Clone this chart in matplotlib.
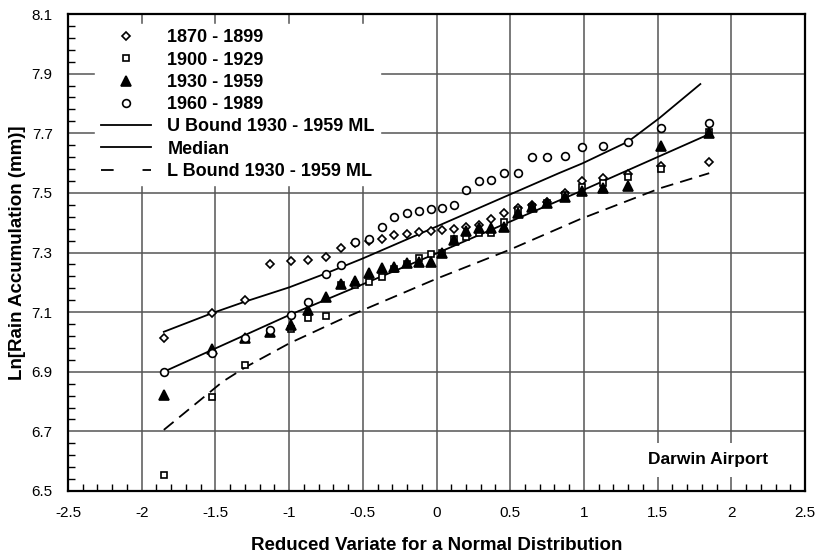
import matplotlib
matplotlib.use("Agg")
import numpy as np
import matplotlib.pyplot as plt
from matplotlib.lines import Line2D
from matplotlib.ticker import MultipleLocator, FixedLocator, FormatStrFormatter

plt.rcParams['font.family'] = ['Liberation Sans', 'DejaVu Sans']

# plotting positions (reduced variate), 30 values per period
xq = [-1.85, -1.52, -1.30, -1.13, -0.99, -0.87, -0.75, -0.65, -0.55, -0.46,
      -0.37, -0.29, -0.20, -0.12, -0.04, 0.04, 0.12, 0.20, 0.29, 0.37,
      0.46, 0.55, 0.65, 0.75, 0.87, 0.99, 1.13, 1.30, 1.52, 1.85]

p1870 = [7.013, 7.097, 7.140, 7.261, 7.271, 7.275, 7.285, 7.316, 7.331, 7.340,
         7.346, 7.359, 7.363, 7.369, 7.371, 7.374, 7.378, 7.385, 7.392, 7.411,
         7.433, 7.450, 7.460, 7.470, 7.500, 7.541, 7.549, 7.563, 7.590, 7.603]
p1900 = [6.553, 6.815, 6.922, 7.033, 7.043, 7.080, 7.087, 7.190, 7.191, 7.201,
         7.219, 7.245, 7.260, 7.283, 7.294, 7.297, 7.344, 7.353, 7.364, 7.364,
         7.403, 7.443, 7.452, 7.467, 7.493, 7.521, 7.534, 7.554, 7.579, 7.705]
p1930 = [6.822, 6.976, 7.013, 7.035, 7.057, 7.107, 7.150, 7.194, 7.205, 7.232,
         7.247, 7.252, 7.264, 7.267, 7.267, 7.297, 7.342, 7.372, 7.381, 7.383,
         7.386, 7.431, 7.454, 7.467, 7.487, 7.507, 7.515, 7.524, 7.657, 7.700]
p1960 = [6.900, 6.963, 7.013, 7.040, 7.090, 7.134, 7.228, 7.258, 7.336, 7.344,
         7.384, 7.418, 7.433, 7.440, 7.447, 7.449, 7.458, 7.510, 7.540, 7.543,
         7.568, 7.566, 7.621, 7.621, 7.624, 7.655, 7.657, 7.672, 7.717, 7.735]

ub_x = [-1.85, -1.52, -1.30, -1.0, -0.75, -0.5, 0.0, 0.5, 0.83, 0.99, 1.30, 1.51, 1.79]
ub_y = [7.034, 7.097, 7.135, 7.183, 7.230, 7.280, 7.387, 7.495, 7.566, 7.599, 7.672, 7.750, 7.865]
med_x = [-1.85, -1.0, 0.0, 0.97, 1.85]
med_y = [6.900, 7.090, 7.297, 7.504, 7.697]
lb_x = [-1.85, -1.45, -1.29, -1.0, -0.66, 0.0, 0.5, 0.97, 1.52, 1.85]
lb_y = [6.705, 6.867, 6.917, 6.995, 7.073, 7.212, 7.310, 7.411, 7.516, 7.566]

yticks = [6.5, 6.7, 6.9, 7.1, 7.3, 7.5, 7.7, 7.9, 8.1]

fig = plt.figure(figsize=(8.21, 5.56), dpi=100)
ax = fig.add_axes([68/821, 65/556, 737/821, 477/556])

ax.plot(ub_x, ub_y, color='black', lw=1.3, zorder=3)
ax.plot(med_x, med_y, color='black', lw=1.3, zorder=3)
ax.plot(lb_x, lb_y, color='black', lw=1.3, dashes=(7, 4), zorder=3)

mk = dict(color='black', linestyle='none', markeredgewidth=1.2, zorder=4)
h1, = ax.plot(xq, p1870, marker='D', ms=3.6, mfc='white', **mk)
h2, = ax.plot(xq, p1900, marker='s', ms=4.6, mfc='white', **mk)
h3, = ax.plot(xq, p1930, marker='^', ms=7, mfc='black', **mk)
h4, = ax.plot(xq, p1960, marker='o', ms=5.6, mfc='white', **mk)

ax.set_xlim(-2.5, 2.5)
ax.set_ylim(6.5, 8.1)
ax.xaxis.set_major_locator(MultipleLocator(0.5))
ax.xaxis.set_minor_locator(MultipleLocator(0.1))
ax.yaxis.set_major_locator(FixedLocator(yticks))
ax.yaxis.set_minor_locator(FixedLocator(np.arange(6.5, 8.1, 0.04)))
ax.xaxis.set_major_formatter(FormatStrFormatter('%g'))
ax.yaxis.set_major_formatter(FormatStrFormatter('%.1f'))
ax.tick_params(which='both', direction='in', top=False, right=False, labelsize=11)
ax.tick_params(which='major', length=0, pad=11)
ax.tick_params(which='minor', length=5, width=1)
ax.grid(True, which='major', color='#555555', lw=1.1)
ax.set_axisbelow(True)
for s in ax.spines.values():
    s.set_linewidth(1.6)

ax.set_xlabel('Reduced Variate for a Normal Distribution', fontsize=13.5,
              fontweight='bold', labelpad=12)
ax.set_ylabel('Ln[Rain Accumulation (mm)]', fontsize=13.5, fontweight='bold',
              labelpad=4)

lu = Line2D([], [], color='black', lw=1.3)
lm = Line2D([], [], color='black', lw=1.3)
ll = Line2D([], [], color='black', lw=1.3, dashes=(7, 16))
leg = ax.legend([h1, h2, h3, h4, lu, lm, ll],
                ['1870 - 1899', '1900 - 1929', '1930 - 1959', '1960 - 1989',
                 'U Bound 1930 - 1959 ML', 'Median', 'L Bound 1930 - 1959 ML'],
                loc='upper left', bbox_to_anchor=(0.037, 0.979), borderaxespad=0,
                prop=dict(size=13, weight='bold'), numpoints=1,
                handlelength=2.8, handletextpad=0.9, labelspacing=0.29,
                borderpad=0.3, frameon=True, fancybox=False,
                facecolor='white', edgecolor='white', framealpha=1)

ax.text(0.95, 0.065, 'Darwin Airport', transform=ax.transAxes, ha='right',
        va='center', fontsize=12.5, fontweight='bold', zorder=5,
        bbox=dict(facecolor='white', edgecolor='none', pad=7))

fig.savefig('out.png', dpi=100)
